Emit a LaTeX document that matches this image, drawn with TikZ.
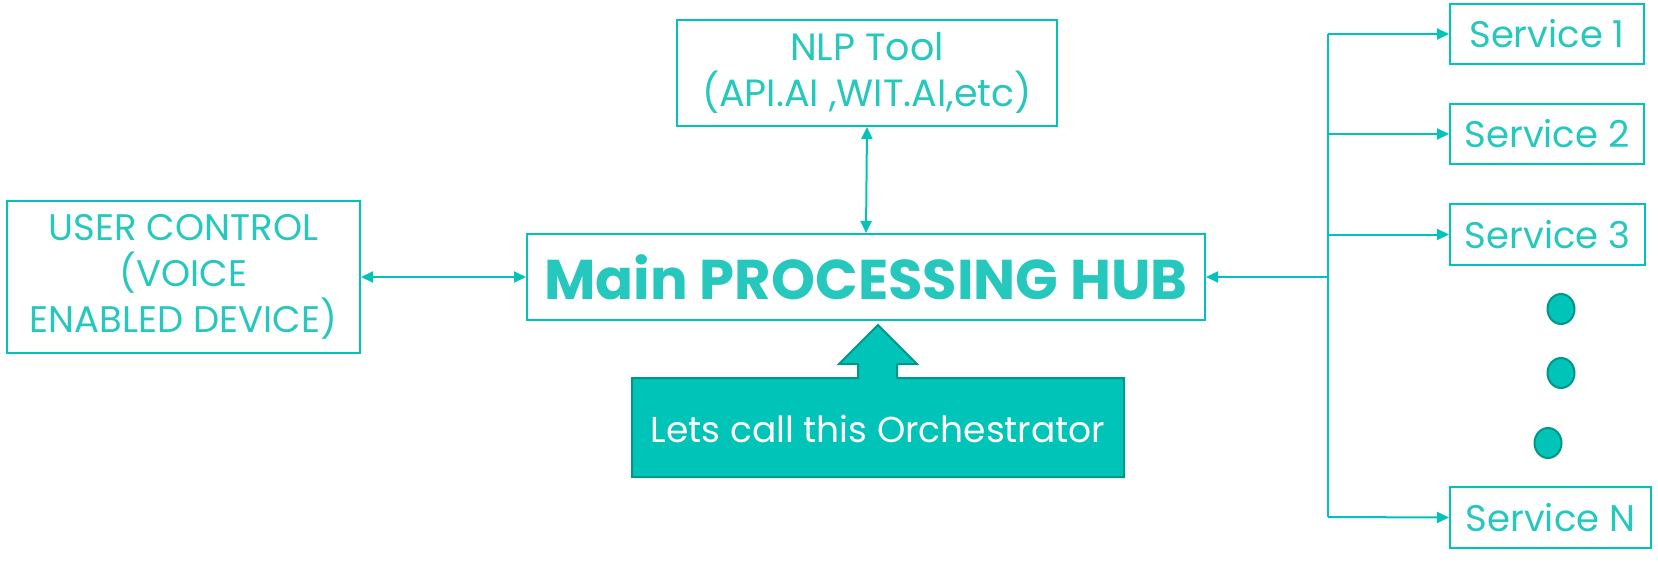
\documentclass[tikz,border=0pt]{standalone}
\usepackage{fontspec}
\setmainfont{Poppins}
\usetikzlibrary{arrows.meta,shapes.geometric}
\definecolor{tealline}{RGB}{0,196,184}
\definecolor{tealtext}{RGB}{38,200,190}
\definecolor{tealfill}{RGB}{0,196,184}
\definecolor{tealdark}{RGB}{0,150,136}
\tikzset{
  boxstyle/.style={draw=tealline, line width=2pt, fill=white, text=tealtext, align=center, inner sep=0pt,
     font=\fontsize{37}{46}\selectfont},
  conn/.style={draw=tealline, line width=2pt, -{Triangle[length=12pt,width=11pt]}},
  dconn/.style={draw=tealline, line width=2pt, {Triangle[length=12pt,width=11pt]}-{Triangle[length=12pt,width=11pt]}},
  dotstyle/.style={ellipse, fill=tealfill, draw=tealdark, line width=2pt, minimum width=27pt, minimum height=30pt, inner sep=0pt},
}
\begin{document}
\begin{tikzpicture}[x=1pt,y=-1pt]
\useasboundingbox (0,0) rectangle (1658,563);
\node[boxstyle, minimum width=353pt, minimum height=152pt] (user) at (183.5,277) {USER CONTROL\\(VOICE\\ENABLED DEVICE)};
\node[boxstyle, minimum width=678pt, minimum height=86pt, font=\fontsize{56}{60}\selectfont\bfseries] (hub) at (866,277) {Main PROCESSING HUB};
\node[boxstyle, minimum width=380pt, minimum height=106pt, font=\fontsize{38}{46}\selectfont] (nlp) at (867,73) {NLP Tool\\(API.AI ,WIT.AI,etc)};
\node[boxstyle, minimum width=194pt, minimum height=60pt] (s1) at (1547,34) {Service 1};
\node[boxstyle, minimum width=194pt, minimum height=60pt] (s2) at (1547,134) {Service 2};
\node[boxstyle, minimum width=195pt, minimum height=61pt] (s3) at (1547.5,234.5) {Service 3};
\node[boxstyle, minimum width=201pt, minimum height=61pt] (sN) at (1550.5,517.5) {Service N};
\node[dotstyle] (d1) at (1561,309) {};
\node[dotstyle] (d2) at (1561,373) {};
\node[dotstyle] (d3) at (1548,443) {};
% callout
\path[fill=tealfill, draw=tealdark, line width=2pt, line join=miter]
  (632,378) -- (858,378) -- (858,364) -- (839,364) -- (878,325) -- (917,364) -- (897,364) -- (897,378)
  -- (1124,378) -- (1124,477) -- (632,477) -- cycle;
\node[text=white, font=\fontsize{36}{40}\selectfont, inner sep=0pt] (orch) at (878,429) {Lets call this Orchestrator};
% connectors
\draw[dconn] (user.east) -- (hub.west);
\draw[dconn] (nlp.south) -- (hub.north);
\coordinate (bt) at (1328,34);
\coordinate (bb) at (1328,517);
\draw[draw=tealline, line width=2pt] (bt) -- (bb);
\draw[conn] (bt) -- (s1.west);
\draw[conn] (bt|-s2.west) -- (s2.west);
\draw[conn] (bt|-s3.west) -- (s3.west);
\draw[conn] (bb) -- (sN.west);
\draw[conn] (bt|-hub.east) -- (hub.east);
\end{tikzpicture}
\end{document}
